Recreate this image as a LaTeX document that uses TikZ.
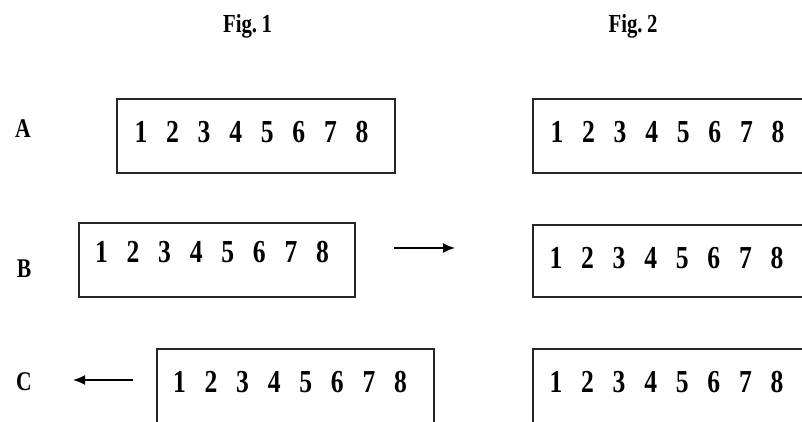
\documentclass[tikz,border=0pt]{standalone}
\usepackage{fontspec}
\setmainfont{Liberation Serif}[FakeStretch=0.8]
\usetikzlibrary{arrows.meta}
\newcommand\digrow{\makebox[31.6pt]{1}\makebox[31.6pt]{2}\makebox[31.6pt]{3}\makebox[31.6pt]{4}\makebox[31.6pt]{5}\makebox[31.6pt]{6}\makebox[31.6pt]{7}\makebox[31.6pt]{8}}
\tikzset{
  box/.style={draw=black!85, line width=1.3pt, minimum width=278pt, minimum height=74pt, inner sep=0pt},
  digits/.style={anchor=base, inner sep=0pt, font=\fontsize{32}{34}\selectfont\bfseries},
  rowlabel/.style={anchor=base, inner sep=0pt, font=\fontsize{27}{29}\selectfont\bfseries},
  figlabel/.style={anchor=base, inner sep=0pt, font=\fontsize{26}{28}\selectfont\bfseries},
  arr/.style={line width=1.6pt, -{Latex[length=12pt,width=10pt]}}
}
\begin{document}
\begin{tikzpicture}[x=1pt,y=-1pt]
\useasboundingbox (0,0) rectangle (802,421);
\clip (0,0) rectangle (802,421);
% titles
\node[figlabel] (fig1) at (247.5,32) {Fig.\,1};
\node[figlabel] (fig2) at (633,32) {Fig.\,2};
% row labels
\node[rowlabel] (la) at (23,137) {A};
\node[rowlabel] (lb) at (24,277) {B};
\node[rowlabel] (lc) at (24,390) {C};
% boxes
\node[box] (a1) at (256,136) {};
\node[box] (a2) at (672,136) {};
\node[box, minimum width=276pt] (b1) at (217,260) {};
\node[box, minimum height=72pt] (b2) at (672,261) {};
\node[box, minimum width=277pt] (c1) at (295.5,386) {};
\node[box] (c2) at (672,386) {};
% digits
\node[digits] (ta1) at (251.5,142) {\digrow};
\node[digits] (ta2) at (667.5,142) {\digrow};
\node[digits] (tb1) at (212,262) {\digrow};
\node[digits] (tb2) at (666.5,268) {\digrow};
\node[digits] (tc1) at (290,392) {\digrow};
\node[digits] (tc2) at (666.5,392) {\digrow};
% arrows
\coordinate (bs) at (394,248);
\coordinate (be) at (455,248);
\coordinate (cs) at (133,380);
\coordinate (ce) at (73,380);
\draw[arr] (bs) -- (be);
\draw[arr] (cs) -- (ce);
\end{tikzpicture}
\end{document}
